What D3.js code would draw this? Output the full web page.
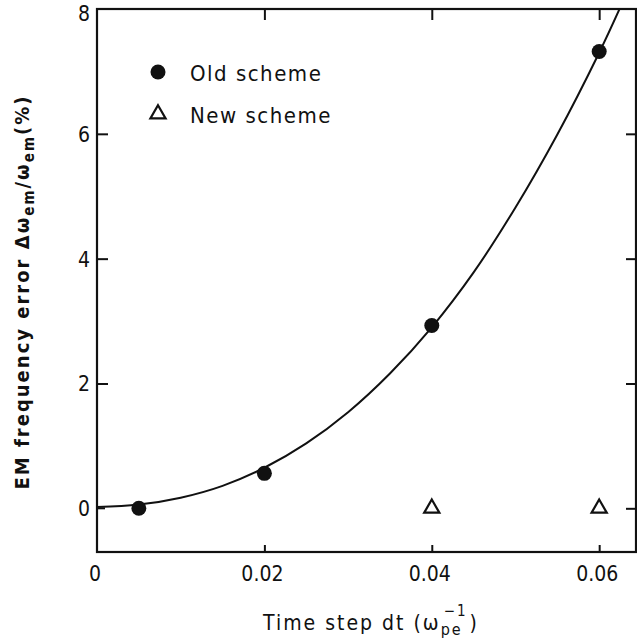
<!DOCTYPE html>
<html>
<head>
<meta charset="utf-8">
<script src="https://cdn.jsdelivr.net/npm/d3@7"></script>
<style>
  html, body { margin: 0; padding: 0; background: #fff; }
  svg { display: block; }
  text { font-family: "DejaVu Sans Condensed", "Liberation Sans", sans-serif; fill: #111; }
</style>
</head>
<body>
<div id="chart"></div>
<script>
//Data
const xTicks = [0, 0.02, 0.04, 0.06];
const yTicks = [0, 2, 4, 6, 8];
const oldScheme = [
  { dt: 0.005, err: 0.0 },
  { dt: 0.02, err: 0.56 },
  { dt: 0.04, err: 2.93 },
  { dt: 0.06, err: 7.32 }
];
const newScheme = [
  { dt: 0.04, err: 0.0 },
  { dt: 0.06, err: 0.0 }
];
// fitted curve
const fitCurve = [
  { dt: 0, err: 0.02 }, { dt: 0.005, err: 0.06 }, { dt: 0.01, err: 0.17 },
  { dt: 0.015, err: 0.36 }, { dt: 0.02, err: 0.65 }, { dt: 0.025, err: 1.04 },
  { dt: 0.03, err: 1.54 }, { dt: 0.035, err: 2.16 }, { dt: 0.04, err: 2.9 },
  { dt: 0.045, err: 3.78 }, { dt: 0.05, err: 4.82 }, { dt: 0.055, err: 5.99 },
  { dt: 0.06, err: 7.3 }, { dt: 0.0626, err: 8.05 }
];
const legendItems = ['Old scheme', 'New scheme'];

//Layout
const W = 637, H = 641;
const margin = { top: 9, right: 1, bottom: 89, left: 97 };
const innerW = W - margin.left - margin.right;
const innerH = H - margin.top - margin.bottom;

const x = d3.scaleLinear().domain([0, 0.0644]).range([0, innerW]);
const y = d3.scaleLinear().domain([-0.7, 8]).range([innerH, 0]);

const svg = d3.select('#chart').append('svg').attr('width', W).attr('height', H);
const g = svg.append('g').attr('transform', `translate(${margin.left},${margin.top})`);

g.append('clipPath').attr('id', 'plot-clip')
  .append('rect').attr('width', innerW).attr('height', innerH);

// Frame
g.append('rect').attr('width', innerW).attr('height', innerH)
  .attr('fill', 'none').attr('stroke', '#111').attr('stroke-width', 2.2);

// Ticks (inward, labels drawn separately)
const styleAxis = sel => {
  sel.select('.domain').remove();
  sel.selectAll('line').attr('stroke', '#111').attr('stroke-width', 2);
  sel.selectAll('text').remove();
};
g.append('g').attr('transform', `translate(0,${innerH})`)
  .call(d3.axisBottom(x).tickValues(xTicks.slice(1)).tickSizeInner(-7).tickSizeOuter(0)).call(styleAxis);
g.append('g')
  .call(d3.axisTop(x).tickValues(xTicks.slice(1)).tickSizeInner(-11).tickSizeOuter(0)).call(styleAxis);
g.append('g')
  .call(d3.axisLeft(y).tickValues(yTicks.slice(1, -1)).tickSizeInner(-11).tickSizeOuter(0)).call(styleAxis);
g.append('g').attr('transform', `translate(${innerW},0)`)
  .call(d3.axisRight(y).tickValues(yTicks.slice(0, -1)).tickSizeInner(-10).tickSizeOuter(0)).call(styleAxis);
// short stub at y = 0 on the left
g.append('line').attr('x1', 0).attr('x2', 8).attr('y1', y(0)).attr('y2', y(0))
  .attr('stroke', '#111').attr('stroke-width', 2);

// Tick labels
g.append('g').selectAll('text').data(xTicks).join('text')
  .attr('x', d => x(d) - 2).attr('y', innerH + 29)
  .attr('text-anchor', 'middle').attr('font-size', 21)
  .text(d => d === 0 ? '0' : d3.format('.2f')(d));
g.append('g').selectAll('text').data(yTicks).join('text')
  .attr('x', -7).attr('y', d => Math.max(y(d) + 8, 12))
  .attr('text-anchor', 'end').attr('font-size', 21)
  .text(d => d);

// Fitted curve
g.append('path').datum(fitCurve)
  .attr('clip-path', 'url(#plot-clip)')
  .attr('fill', 'none').attr('stroke', '#111').attr('stroke-width', 2)
  .attr('d', d3.line().x(d => x(d.dt)).y(d => y(d.err)).curve(d3.curveCatmullRom));

// Markers
const tri = d3.symbol().type(d3.symbolTriangle).size(100);
g.append('g').selectAll('circle').data(oldScheme).join('circle')
  .attr('cx', d => x(d.dt)).attr('cy', d => y(d.err)).attr('r', 7.5).attr('fill', '#111');
g.append('g').selectAll('path').data(newScheme).join('path')
  .attr('transform', d => `translate(${x(d.dt)},${y(d.err)})`)
  .attr('d', tri).attr('fill', 'none').attr('stroke', '#111').attr('stroke-width', 2.2);

// Legend
const legend = g.append('g').attr('transform', 'translate(61,63)');
legendItems.forEach((label, i) => {
  const row = legend.append('g').attr('transform', `translate(0,${i * 42})`);
  if (i === 0) row.append('circle').attr('r', 7.5).attr('fill', '#111');
  else row.append('path').attr('d', tri).attr('fill', 'none').attr('stroke', '#111').attr('stroke-width', 2.2);
  row.append('text').attr('x', 32).attr('y', 9).attr('font-size', 22)
    .attr('letter-spacing', 1.5).text(label);
});

// Axis titles
const xTitle = svg.append('text')
  .attr('x', 371).attr('y', 630)
  .attr('text-anchor', 'middle').attr('font-size', 21).attr('letter-spacing', 2);
xTitle.append('tspan').text('Time step dt  (ω');
xTitle.append('tspan').attr('font-size', 16).attr('dy', 5).text('pe');
xTitle.append('tspan').attr('font-size', 15).attr('dy', -19).attr('dx', -19).text('−1');
xTitle.append('tspan').attr('dy', 14).attr('dx', 2).text(')');

const yTitle = svg.append('text')
  .attr('transform', 'translate(29,292) rotate(-90)')
  .attr('text-anchor', 'middle').attr('font-size', 20).attr('font-weight', 'bold')
  .attr('letter-spacing', 2);
yTitle.append('tspan').text('EM frequency error  Δω');
yTitle.append('tspan').attr('font-size', 15).attr('dy', 5).text('em');
yTitle.append('tspan').attr('dy', -5).text('/ω');
yTitle.append('tspan').attr('font-size', 15).attr('dy', 5).text('em');
yTitle.append('tspan').attr('dy', -5).text('(%)');
</script>
</body>
</html>
